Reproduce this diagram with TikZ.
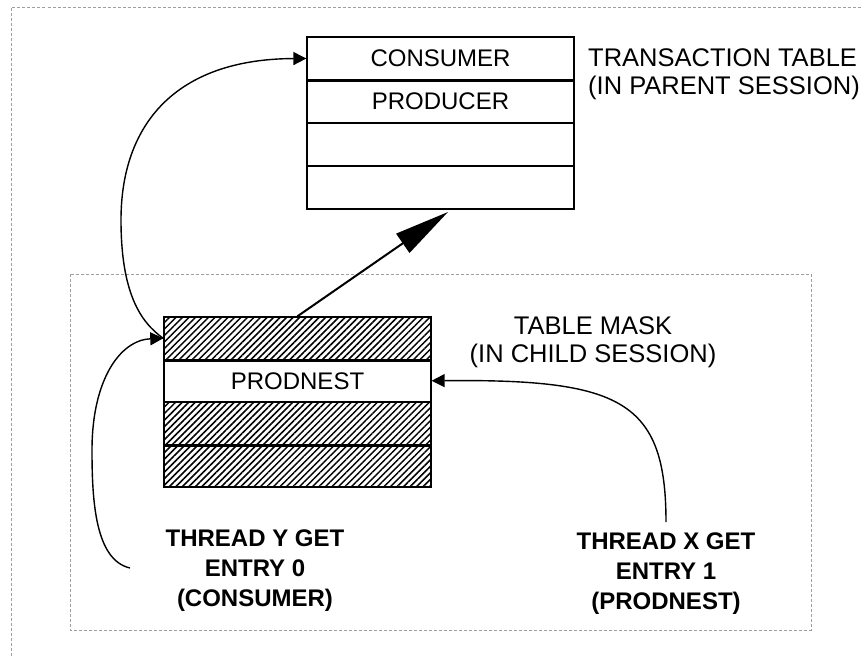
\documentclass[tikz,border=0pt]{standalone}
\usepackage{fontspec}
\setmainfont{Liberation Sans}
\usetikzlibrary{arrows.meta,patterns.meta,calc}
\begin{document}
\begin{tikzpicture}[x=1pt, y=-1pt]
\tikzset{
  cell/.style={draw, line width=1.3pt, minimum width=267pt, minimum height=43pt,
               inner sep=0pt, font=\fontsize{24}{28}\selectfont},
  maskcell/.style={cell, minimum height=42.5pt},
  hatched/.style={pattern={Lines[angle=45,distance=4.6pt,line width=1.5pt]}},
  sepline/.style={line width=3pt},
  frame/.style={draw=gray!75, line width=0.8pt, dash pattern=on 3pt off 2pt},
  link/.style={line width=1.4pt, -{Triangle[length=13pt,width=13pt]}},
  bigarrow/.style={line width=2pt, -{Triangle[length=55pt,width=23pt]}},
  caption/.style={font=\fontsize{25.5}{28}\selectfont, inner sep=0pt},
  threadlabel/.style={font=\bfseries\fontsize{24}{30}\selectfont, align=center, inner sep=0pt},
}
\useasboundingbox (0,0) rectangle (862,656);

% session frames
\draw[frame] (11,656) -- (11,7.5) -- (862,7.5);
\draw[frame] (70,274) rectangle (811,630);

% transaction table in the parent session
\node[cell] (c0) at (440.5, 58.5) {CONSUMER};
\node[cell] (c1) at (440.5,101.5) {PRODUCER};
\node[cell] (c2) at (440.5,144.5) {};
\node[cell] (c3) at (440.5,187.5) {};
\draw[sepline] (c0.south west) -- (c0.south east);

\node[caption, anchor=west, align=left] (tt) at (588,74)
  {TRANSACTION TABLE\\(IN PARENT SESSION)};

% table mask in the child session
\node[maskcell, hatched] (m0) at (297.5,338.25) {};
\node[maskcell]          (m1) at (297.5,380.75) {PRODNEST};
\node[maskcell, hatched] (m2) at (297.5,423.25) {};
\node[maskcell, hatched] (m3) at (297.5,465.75) {};
\draw[sepline] (m0.south west) -- (m0.south east);
\draw[sepline] (m2.south west) -- (m2.south east);

\node[caption, align=center] (tm) at (593,342)
  {TABLE MASK\\(IN CHILD SESSION)};

% thread labels
\node[threadlabel] (ty) at (255,571) {THREAD Y GET\\ENTRY 0\\(CONSUMER)};
\node[threadlabel] (tx) at (666,574) {THREAD X GET\\ENTRY 1\\(PRODNEST)};

% connectors
\coordinate (bigtip) at (448,212);
\draw[bigarrow] (m0.north) -- (bigtip);

\draw[link] (m0.west) .. controls (140,322) and (121,292) .. (121,220)
            .. controls (121,125) and (175,59) .. (c0.west);

\coordinate (ystart) at (130,568);
\draw[link] (ystart) .. controls (95,560) and (92,500) .. (92,450)
            .. controls (92,380) and (120,340) .. (m0.west);

\coordinate (xstart) at (666,522);
\draw[link] (xstart) .. controls (666,400) and (620,379) .. (m1.east);
\end{tikzpicture}
\end{document}
